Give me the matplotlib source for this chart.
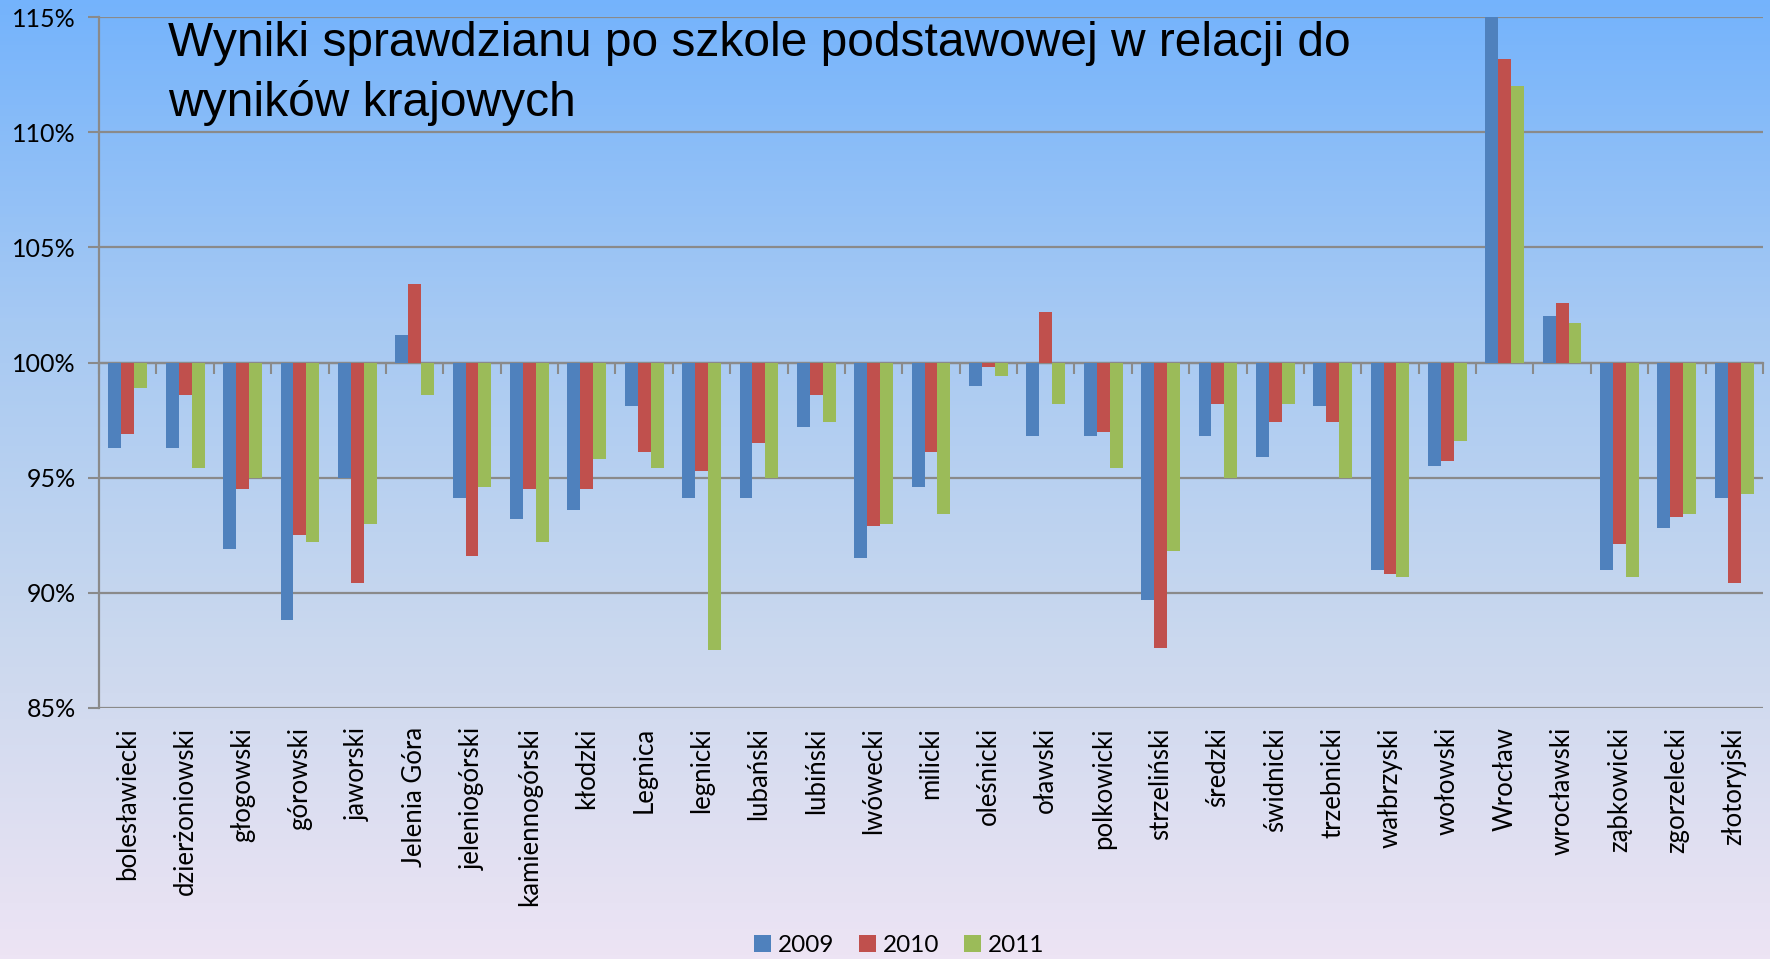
import numpy as np
import matplotlib
matplotlib.use("Agg")
import matplotlib.pyplot as plt
from matplotlib.colors import LinearSegmentedColormap
from matplotlib.ticker import FuncFormatter

# =====================================
# DATA
# =====================================
powiaty = [
    "bolesławiecki", "dzierżoniowski", "głogowski", "górowski", "jaworski",
    "Jelenia Góra", "jeleniogórski", "kamiennogórski", "kłodzki", "Legnica",
    "legnicki", "lubański", "lubiński", "lwówecki", "milicki", "oleśnicki",
    "oławski", "polkowicki", "strzeliński", "średzki", "świdnicki",
    "trzebnicki", "wałbrzyski", "wołowski", "Wrocław", "wrocławski",
    "ząbkowicki", "zgorzelecki", "złotoryjski",
]
lata = ["2009", "2010", "2011"]

wyniki_2009 = [96.3, 96.3, 91.9, 88.8, 95.0, 101.2, 94.1, 93.2, 93.6, 98.1,
               94.1, 94.1, 97.2, 91.5, 94.6, 99.0, 96.8, 96.8, 89.7, 96.8,
               95.9, 98.1, 91.0, 95.5, 116.0, 102.0, 91.0, 92.8, 94.1]
wyniki_2010 = [96.9, 98.6, 94.5, 92.5, 90.4, 103.4, 91.6, 94.5, 94.5, 96.1,
               95.3, 96.5, 98.6, 92.9, 96.1, 99.8, 102.2, 97.0, 87.6, 98.2,
               97.4, 97.4, 90.8, 95.7, 113.2, 102.6, 92.1, 93.3, 90.4]
wyniki_2011 = [98.9, 95.4, 95.0, 92.2, 93.0, 98.6, 94.6, 92.2, 95.8, 95.4,
               87.5, 95.0, 97.4, 93.0, 93.4, 99.4, 98.2, 95.4, 91.8, 95.0,
               98.2, 95.0, 90.7, 96.6, 112.0, 101.7, 90.7, 93.4, 94.3]

y_ticks = [85, 90, 95, 100, 105, 110, 115]

# =====================================
# STYLE
# =====================================
COLORS   = ["#4f81bd", "#c0504d", "#9bbb59"]
GRID     = "#8a8a8a"
BASELINE = 100
BAR_W    = 0.225

plt.rcParams["font.family"] = ["Lato", "DejaVu Sans"]

fig = plt.figure(figsize=(17.7, 9.59), dpi=100)

# background gradient over the whole slide
bg_ax = fig.add_axes([0, 0, 1, 1], zorder=-10)
bg_cmap = LinearSegmentedColormap.from_list(
    "bg", ["#74b3fc", "#a6c9f3", "#cad8ee", "#ede4f4"])
bg_ax.imshow(np.linspace(0, 1, 256).reshape(-1, 1), aspect="auto",
             cmap=bg_cmap, extent=[0, 1, 0, 1])
bg_ax.axis("off")

ax = fig.add_axes([0.056, 0.262, 0.940, 0.720])
ax.patch.set_alpha(0)

# =====================================
# BARS
# =====================================
x = np.arange(len(powiaty))
series = [wyniki_2009, wyniki_2010, wyniki_2011]
for i, (vals, col, lab) in enumerate(zip(series, COLORS, lata)):
    vals = np.array(vals)
    ax.bar(x + (i - 1) * BAR_W, vals - BASELINE, bottom=BASELINE,
           width=BAR_W, color=col, label=lab, zorder=3)

ax.set_xlim(-0.5, len(powiaty) - 0.5)
ax.set_ylim(y_ticks[0], y_ticks[-1])
ax.set_yticks(y_ticks)
ax.yaxis.set_major_formatter(FuncFormatter(lambda v, p: f"{v:.0f}%"))
ax.tick_params(axis="y", length=8, width=1.5, color=GRID, labelsize=18,
               pad=9)

for v in y_ticks:
    ax.axhline(v, color=GRID, lw=1.6, zorder=1)

# category axis crosses at 100%
ax.spines["bottom"].set_position(("data", BASELINE))
ax.spines["bottom"].set_color(GRID)
ax.spines["bottom"].set_linewidth(1.6)
ax.spines["left"].set_color(GRID)
ax.spines["left"].set_linewidth(1.6)
ax.spines["top"].set_visible(False)
ax.spines["right"].set_visible(False)
ax.set_xticks(np.arange(len(powiaty) + 1) - 0.5)
ax.tick_params(axis="x", length=8, width=1.5, color=GRID, labelbottom=False,
               direction="out")

# category labels at the bottom of the plot area
sec = ax.secondary_xaxis("bottom")
sec.set_xticks(x)
sec.set_xticklabels(powiaty, rotation=90, fontsize=18.5, va="top")
sec.tick_params(length=0, pad=14)
sec.spines["bottom"].set_visible(False)

# =====================================
# TITLE + LEGEND
# =====================================
fig.text(0.095, 0.978,
         "Wyniki sprawdzianu po szkole podstawowej w relacji do\nwyników krajowych",
         fontsize=34.5, family="Liberation Sans", va="top", ha="left",
         linespacing=1.38)

fig.legend(loc="lower center", bbox_to_anchor=(0.508, -0.02), ncol=3,
           frameon=False, fontsize=17.5, handlelength=0.7, handleheight=0.7,
           handletextpad=0.3, columnspacing=1.0)

fig.savefig("out.png", dpi=100)
